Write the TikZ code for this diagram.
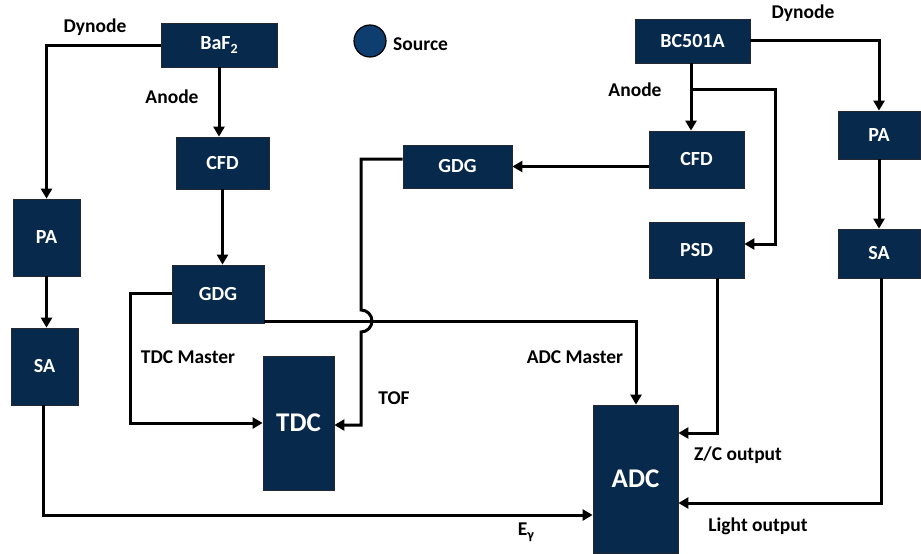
\documentclass[tikz,border=0pt]{standalone}
\usepackage{fontspec}
\setmainfont{Carlito}
\usetikzlibrary{arrows.meta,calc}
\definecolor{boxblue}{RGB}{7,41,76}
\definecolor{boxedge}{RGB}{35,40,50}
\definecolor{srcblue}{RGB}{14,61,112}
\begin{document}
\begin{tikzpicture}[x=1pt,y=-1pt,
  blk/.style={draw=boxedge,line width=0.8pt,fill=boxblue,text=white,inner sep=0pt,
    font=\fontsize{20}{22}\selectfont\bfseries},
  bigblk/.style={blk,font=\fontsize{27}{30}\selectfont\bfseries},
  lbl/.style={inner sep=0pt,font=\fontsize{19.5}{22}\selectfont\bfseries},
  wire/.style={line width=3pt},
  arr/.style={wire,-{Triangle[length=10pt,width=11pt]}}]
\useasboundingbox (0,0) rectangle (921,554);
% boxes
\node[blk,minimum width=116pt,minimum height=44pt] (baf) at (219,45) {BaF\raisebox{-4pt}{\fontsize{14}{15}\selectfont 2}};
\node[blk,minimum width=93pt,minimum height=52pt] (cfdL) at (222.5,163) {CFD};
\node[blk,minimum width=92pt,minimum height=58pt] (gdgL) at (218,294) {GDG};
\node[blk,minimum width=67pt,minimum height=77pt] (paL) at (46.5,237.5) {PA};
\node[blk,minimum width=67pt,minimum height=77pt] (saL) at (44.5,366.5) {SA};
\node[bigblk,minimum width=71pt,minimum height=134pt] (tdc) at (298.5,423) {TDC};
\node[blk,minimum width=109pt,minimum height=43pt] (gdgT) at (457.5,166.5) {GDG};
\node[blk,minimum width=115pt,minimum height=44pt] (bc) at (692.5,41) {BC501A};
\node[blk,minimum width=95pt,minimum height=57pt] (cfdR) at (696.5,159.5) {CFD};
\node[blk,minimum width=95pt,minimum height=56pt] (psd) at (696.5,250) {PSD};
\node[blk,minimum width=82pt,minimum height=48pt] (paR) at (879,135) {PA};
\node[blk,minimum width=82pt,minimum height=49pt] (saR) at (879,253.5) {SA};
\node[bigblk,minimum width=85pt,minimum height=148pt] (adc) at (635.5,479) {ADC};
% source
\node[draw=black,line width=1.2pt,fill=srcblue,circle,minimum size=32pt,inner sep=0pt] (src) at (370,41) {};
\node[lbl,anchor=west] (srcl) at (393,44) {Source};
% labels
\node[lbl] (dynL) at (95,27) {Dynode};
\node[lbl] (anoL) at (172,97) {Anode};
\node[lbl] (tdcm) at (188,357) {TDC Master};
\node[lbl] (tof) at (394,398) {TOF};
\node[lbl] (adcm) at (575,357) {ADC Master};
\node[lbl] (dynR) at (803,13) {Dynode};
\node[lbl] (anoR) at (635,90) {Anode};
\node[lbl] (zc) at (738,455) {Z/C output};
\node[lbl] (light) at (758,526) {Light output};
\node[lbl] (eg) at (526,532) {E\raisebox{-4pt}{\fontsize{14}{15}\selectfont γ}};
% coordinates
\coordinate (tm1) at (130,293);
\coordinate (tm2) at (130,423);
\coordinate (am) at (636,321);
\coordinate (t1) at (361,159);
\coordinate (th1) at (361,310);
\coordinate (t2) at (361,425);
\coordinate (br) at (691,89);
\coordinate (br2) at (775,244);
\coordinate (zc1) at (717,433);
\coordinate (lo1) at (881,503);
\coordinate (eg1) at (43,515);
% left chain
\draw[arr] (baf.west) -| (paL.north);
\draw[arr] (baf.south) -- (baf.south |- cfdL.north);
\draw[arr] (cfdL.south) -- (cfdL.south |- gdgL.north);
\draw[arr] (paL.south) -- (paL.south |- saL.north);
\draw[arr] (gdgL.west |- tm1) -- (tm1) -- (tm2) -- (tm2 -| tdc.west);
\draw[arr] (am -| gdgL.east) -- (am) -- (am |- adc.north);
\draw[arr] (gdgT.west |- t1) -- (t1) -- (th1) arc[start angle=90,end angle=-90,radius=11pt] -- (t2) -- (t2 -| tdc.east);
\draw[arr] (eg1 |- saL.south) -- (eg1) -- (eg1 -| adc.west);
% right chain
\draw[arr] (cfdR.west |- gdgT.east) -- (gdgT.east);
\draw[arr] (br |- bc.south) -- (br |- cfdR.north);
\draw[arr] (br) -- (br2 |- br) -- (br2) -- (br2 -| psd.east);
\draw[arr] (bc.east |- 0,40) -| (paR.north);
\draw[arr] (paR.south) -- (paR.south |- saR.north);
\draw[arr] (zc1 |- psd.south) -- (zc1) -- (zc1 -| adc.east);
\draw[arr] (lo1 |- saR.south) -- (lo1) -- (lo1 -| adc.east);
\end{tikzpicture}
\end{document}
